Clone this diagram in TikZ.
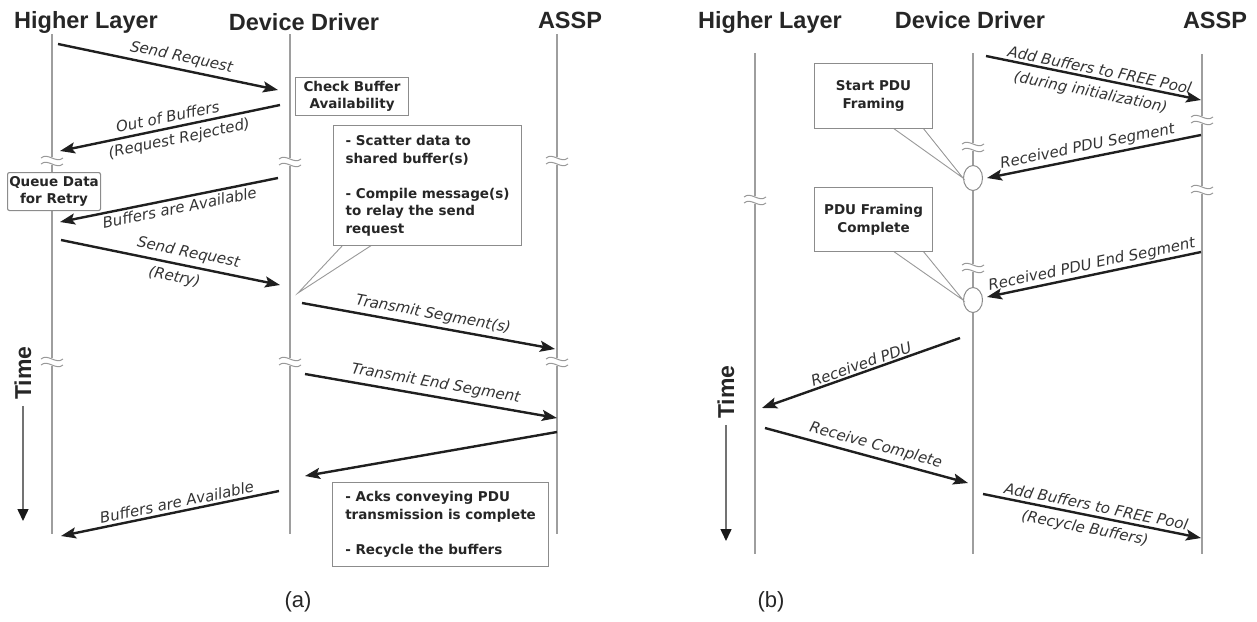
\documentclass[tikz,border=0pt]{standalone}
\usepackage{fontspec}
\setmainfont{DejaVu Sans}
\newfontfamily\hdrfont{Liberation Sans}
\usetikzlibrary{arrows.meta,shapes.geometric}
\begin{document}
\begin{tikzpicture}[x=1pt,y=-1pt,
  life/.style={draw=black!38, line width=1.6pt},
  msg/.style={draw=black!88, line width=2.4pt, -{Stealth[length=15pt,width=11pt,inset=3pt]}},
  lbl/.style={font=\fontsize{15}{17}\selectfont\itshape, text=black!80, sloped, inner sep=1.5pt},
  hdr/.style={font=\hdrfont\fontsize{23.5}{26}\selectfont\bfseries, text=black!85, inner sep=0, anchor=base},
  bx/.style={draw=black!45, line width=1.1pt, fill=white, font=\fontsize{13.5}{17.5}\selectfont\bfseries, text=black!85, align=center, inner sep=0, anchor=north west},
  callout/.style={draw=black!40, line width=0.9pt},
  bub/.style={ellipse, draw=black!45, line width=1pt, fill=white, minimum width=19pt, minimum height=25pt, inner sep=0},
  timetxt/.style={font=\hdrfont\fontsize{23}{26}\selectfont\bfseries, text=black!85, rotate=90, inner sep=0},
  timearr/.style={draw=black!55, line width=1.5pt, -{Triangle[length=12pt,width=11pt,color=black!90]}},
  figcap/.style={font=\hdrfont\fontsize{22}{26}\selectfont, text=black!85},
  brk/.pic={
    \fill[white] (-12,-4) rectangle (12,4);
    \draw[black!40, line width=1pt] (-11,-3) .. controls (-4,-9) and (4,3) .. (11,-3);
    \draw[black!40, line width=1pt] (-11,3) .. controls (-4,-3) and (4,9) .. (11,3);
  }
]
\useasboundingbox (0,0) rectangle (1257,621);

% ================= (a) =================
\node[hdr] (hlA) at (86,28) {Higher Layer};
\node[hdr] (ddA) at (304,30) {Device Driver};
\node[hdr] (asA) at (570,28) {ASSP};

\coordinate (hlAt) at (52,34);  \coordinate (hlAb) at (52,534);
\coordinate (ddAt) at (290,34); \coordinate (ddAb) at (290,534);
\coordinate (asAt) at (557,34); \coordinate (asAb) at (557,534);
\draw[life] (hlAt) -- (hlAb);
\draw[life] (ddAt) -- (ddAb);
\draw[life] (asAt) -- (asAb);

\pic at (52,161) {brk};
\pic at (290,162) {brk};
\pic at (557,161) {brk};
\pic at (52,362) {brk};
\pic at (290,362) {brk};
\pic at (557,362) {brk};

\coordinate (a1s) at (58,44);   \coordinate (a1e) at (278,90);
\coordinate (a2s) at (280,105); \coordinate (a2e) at (60,151);
\coordinate (a3s) at (278,178); \coordinate (a3e) at (60,222);
\coordinate (a4s) at (61,240);  \coordinate (a4e) at (280,285);
\coordinate (a5s) at (302,303); \coordinate (a5e) at (555,349);
\coordinate (a6s) at (305,374); \coordinate (a6e) at (557,418);
\coordinate (a7s) at (557,432); \coordinate (a7e) at (305,476);
\coordinate (a8s) at (279,491); \coordinate (a8e) at (61,536);

\draw[msg] (a1s) -- node[lbl,above=2pt,pos=.55]{Send Request} (a1e);
\draw[msg] (a2s) -- node[lbl,above=3pt,pos=.5]{Out of Buffers}
                    node[lbl,below=3pt,pos=.47]{(Request Rejected)} (a2e);
\draw[msg] (a3s) -- node[lbl,below=1pt,pos=.46]{Buffers are Available} (a3e);
\draw[msg] (a4s) -- node[lbl,above=3pt,pos=.57]{Send Request}
                    node[lbl,below=4pt,pos=.53]{(Retry)} (a4e);
\draw[msg] (a5s) -- node[lbl,above=2pt,pos=.51]{Transmit Segment(s)} (a5e);
\draw[msg] (a6s) -- node[lbl,above=3pt,pos=.51]{Transmit End Segment} (a6e);
\draw[msg] (a7s) -- (a7e);
\draw[msg] (a8s) -- node[lbl,above=1pt,pos=.46]{Buffers are Available} (a8e);

\node[bx, minimum width=113pt, minimum height=38pt] (chk) at (295,77) {Check Buffer\\Availability};
\node[bx, rounded corners=2pt, minimum width=93pt, minimum height=38pt] (que) at (7,172) {Queue Data\\for Retry};

\coordinate (pA1) at (343,245); \coordinate (pA2) at (372,245); \coordinate (pAt) at (298,293);
\draw[callout, fill=white] (pA1) -- (pAt) -- (pA2);
\node[bx, align=left, minimum width=188pt, minimum height=120pt] (sct) at (333,125)
  {- Scatter data to\\shared buffer(s)\\[17.5pt]- Compile message(s)\\to relay the send\\request};

\node[bx, align=left, minimum width=216pt, minimum height=84pt] (ack) at (332,482)
  {- Acks conveying PDU\\transmission is complete\\[17.5pt]- Recycle the buffers};

\node[timetxt] (tA) at (23,373) {Time};
\coordinate (tAe) at (23,521);
\draw[timearr] ([yshift=-6pt]tA.west) -- (tAe);

\node[figcap] (capA) at (298,602) {(a)};

% ================= (b) =================
\node[hdr] (hlB) at (770,28) {Higher Layer};
\node[hdr] (ddB) at (970,28) {Device Driver};
\node[hdr] (asB) at (1215,28) {ASSP};

\coordinate (hlBt) at (755,53);  \coordinate (hlBb) at (755,554);
\coordinate (ddBt) at (973,53);  \coordinate (ddBb) at (973,554);
\coordinate (asBt) at (1202,54); \coordinate (asBb) at (1202,554);
\draw[life] (hlBt) -- (hlBb);
\draw[life] (ddBt) -- (ddBb);
\draw[life] (asBt) -- (asBb);

\pic at (755,200) {brk};
\pic at (973,147) {brk};
\pic at (973,268) {brk};
\pic at (1202,120) {brk};
\pic at (1202,190) {brk};

\node[bub] (e1) at (973,178) {};
\node[bub] (e2) at (973,300) {};

\coordinate (b1s) at (986,56);   \coordinate (b1e) at (1201,100);
\coordinate (b2s) at (1201,135); \coordinate (b2e) at (987,178);
\coordinate (b3s) at (1201,252); \coordinate (b3e) at (987,297);
\coordinate (b4s) at (960,338);  \coordinate (b4e) at (762,408);
\coordinate (b5s) at (765,428);  \coordinate (b5e) at (968,483);
\coordinate (b6s) at (983,494);  \coordinate (b6e) at (1201,538);

\draw[msg] (b1s) -- node[lbl,above=1pt,pos=.52]{Add Buffers to FREE Pool}
                    node[lbl,below=5pt,pos=.5]{(during initialization)} (b1e);
\draw[msg] (b2s) -- node[lbl,above=1pt,pos=.52]{Received PDU Segment} (b2e);
\draw[msg] (b3s) -- node[lbl,above=0pt,pos=.5]{Received PDU End Segment} (b3e);
\draw[msg] (b4s) -- node[lbl,above=0pt,pos=.485]{Received PDU} (b4e);
\draw[msg] (b5s) -- node[lbl,above=2pt,pos=.53]{Receive Complete} (b5e);
\draw[msg] (b6s) -- node[lbl,above=2pt,pos=.51]{Add Buffers to FREE Pool}
                    node[lbl,below=4pt,pos=.48]{(Recycle Buffers)} (b6e);

\coordinate (pB1) at (893,128); \coordinate (pB2) at (923,128);
\draw[callout] (pB1) -- (e1.west) -- (pB2);
\node[bx, minimum width=118pt, minimum height=65pt] (spf) at (814,63) {Start PDU\\Framing};

\coordinate (pC1) at (893,251); \coordinate (pC2) at (923,251);
\draw[callout] (pC1) -- (e2.west) -- (pC2);
\node[bx, minimum width=118pt, minimum height=64pt] (pfc) at (814,187) {PDU Framing\\Complete};

\node[timetxt] (tB) at (726,392) {Time};
\coordinate (tBe) at (726,541);
\draw[timearr] ([yshift=-6pt]tB.west) -- (tBe);

\node[figcap] (capB) at (771,602) {(b)};
\end{tikzpicture}
\end{document}
